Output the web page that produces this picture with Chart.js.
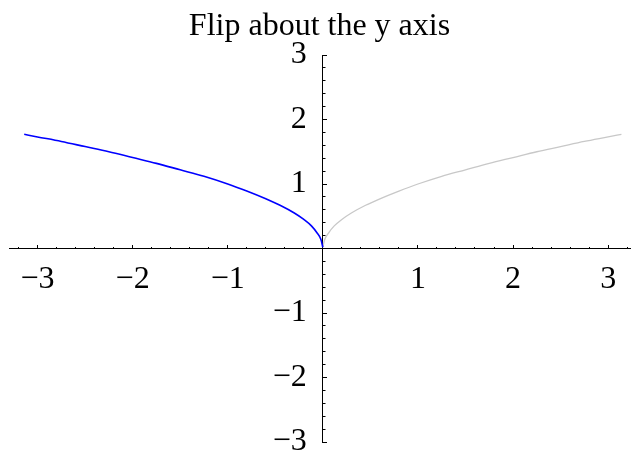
<!DOCTYPE html>
<html>
<head>
<meta charset="utf-8">
<title>Flip about the y axis</title>
<script src="https://cdn.jsdelivr.net/npm/chart.js@4/dist/chart.umd.min.js"></script>
<style>
  html, body { margin: 0; padding: 0; background: #ffffff; }
  canvas { display: block; }
</style>
</head>
<body>
<canvas id="chart" width="631" height="453"></canvas>
<script>
// Title
const titleText = 'Flip about the y axis';

// Reflected branch (x <= 0), drawn in blue
const leftX = [-3.14, -3.0, -2.75, -2.5, -2.25, -2.0, -1.75, -1.5, -1.25, -1.0, -0.8, -0.6, -0.45, -0.3, -0.2, -0.12, -0.06, -0.02, 0];
const leftY = [1.77, 1.73, 1.66, 1.58, 1.50, 1.41, 1.32, 1.22, 1.12, 1.00, 0.89, 0.77, 0.67, 0.55, 0.45, 0.35, 0.24, 0.14, 0.02];

// Original branch (x >= 0), drawn in light grey
const rightX = [0, 0.02, 0.06, 0.12, 0.2, 0.3, 0.45, 0.6, 0.8, 1.0, 1.25, 1.5, 1.75, 2.0, 2.25, 2.5, 2.75, 3.0, 3.14];
const rightY = [0.02, 0.14, 0.24, 0.35, 0.45, 0.55, 0.67, 0.77, 0.89, 1.00, 1.12, 1.22, 1.32, 1.41, 1.50, 1.58, 1.66, 1.73, 1.77];

// Axis ranges and tick positions
const xRange = [-3.3, 3.23];
const yRange = [-3, 3];
const xMajorTicks = [-3, -2, -1, 0, 1, 2, 3];
const xMinorTicks = [-3.2, -2.8, -2.6, -2.4, -2.2, -1.8, -1.6, -1.4, -1.2, -0.8, -0.6, -0.4, -0.2,
                     0.2, 0.4, 0.6, 0.8, 1.2, 1.4, 1.6, 1.8, 2.2, 2.4, 2.6, 2.8, 3.2];
const yMajorTicks = [-3, -2, -1, 0, 1, 2, 3];
const yMinorTicks = [-2.8, -2.6, -2.4, -2.2, -1.8, -1.6, -1.4, -1.2, -0.8, -0.6, -0.4, -0.2,
                     0.2, 0.4, 0.6, 0.8, 1.2, 1.4, 1.6, 1.8, 2.2, 2.4, 2.6, 2.8];

const serif = "'Liberation Serif', 'Times New Roman', Times, serif";
const ink = '#000000';

const toPoints = (xs, ys) => xs.map((x, i) => ({ x: x, y: ys[i] }));
const formatTick = (v) => (v === 0 ? '' : (v < 0 ? '\u2212' + Math.abs(v) : String(v)));
// y labels sit to the left of the axis with an en-space gap
const formatYTick = (v) => (v === 0 ? '' : formatTick(v) + '\u2002');
const useTicks = (values) => (scale) => { scale.ticks = values.map(v => ({ value: v })); };

// Axes drawn through the origin take no layout room of their own
const noRoom = (scale) => {
  if (scale.isHorizontal()) { scale.height = 0; } else { scale.width = 0; }
  scale.paddingLeft = 0;
  scale.paddingRight = 0;
  scale.paddingTop = 0;
  scale.paddingBottom = 0;
};

new Chart(document.getElementById('chart'), {
  type: 'scatter',
  data: {
    datasets: [
      {
        data: toPoints(leftX, leftY),
        showLine: true,
        borderColor: '#0000ff',
        borderWidth: 1.6,
        pointRadius: 0,
        cubicInterpolationMode: 'monotone',
        xAxisID: 'x',
        yAxisID: 'y'
      },
      {
        data: toPoints(rightX, rightY),
        showLine: true,
        borderColor: '#c8c8c8',
        borderWidth: 1.3,
        pointRadius: 0,
        cubicInterpolationMode: 'monotone',
        xAxisID: 'x',
        yAxisID: 'y'
      }
    ]
  },
  options: {
    responsive: false,
    animation: false,
    devicePixelRatio: 1,
    layout: { padding: { top: 7, left: 9, right: 1, bottom: 11 } },
    plugins: {
      legend: { display: false },
      tooltip: { enabled: false },
      title: {
        display: true,
        text: titleText,
        color: ink,
        font: { family: serif, size: 32, weight: 'normal' },
        padding: { top: 0, bottom: 9.6 }
      }
    },
    scales: {
      x: {
        type: 'linear',
        min: xRange[0],
        max: xRange[1],
        position: { y: 0 },
        afterBuildTicks: useTicks(xMajorTicks),
        afterFit: noRoom,
        border: { display: true, color: ink, width: 1 },
        grid: { drawOnChartArea: false, drawTicks: true, tickLength: -4, tickColor: ink, tickWidth: 1 },
        ticks: {
          autoSkip: false, maxRotation: 0, padding: 16, color: ink,
          font: { family: serif, size: 32 },
          callback: formatTick
        }
      },
      xMinor: {
        type: 'linear',
        axis: 'x',
        min: xRange[0],
        max: xRange[1],
        position: { y: 0 },
        afterBuildTicks: useTicks(xMinorTicks),
        afterFit: noRoom,
        border: { display: false },
        grid: { drawOnChartArea: false, drawTicks: true, tickLength: -2, tickColor: ink, tickWidth: 1 },
        ticks: { display: false }
      },
      y: {
        type: 'linear',
        min: yRange[0],
        max: yRange[1],
        position: { x: 0 },
        afterBuildTicks: useTicks(yMajorTicks),
        afterFit: noRoom,
        border: { display: true, color: ink, width: 1 },
        grid: { drawOnChartArea: false, drawTicks: true, tickLength: -5, tickColor: ink, tickWidth: 1 },
        ticks: {
          autoSkip: false, padding: 16, color: ink,
          font: { family: serif, size: 32 },
          callback: formatYTick
        }
      },
      yMinor: {
        type: 'linear',
        axis: 'y',
        min: yRange[0],
        max: yRange[1],
        position: { x: 0 },
        afterBuildTicks: useTicks(yMinorTicks),
        afterFit: noRoom,
        border: { display: false },
        grid: { drawOnChartArea: false, drawTicks: true, tickLength: -2.5, tickColor: ink, tickWidth: 1 },
        ticks: { display: false }
      }
    }
  }
});
</script>
</body>
</html>
